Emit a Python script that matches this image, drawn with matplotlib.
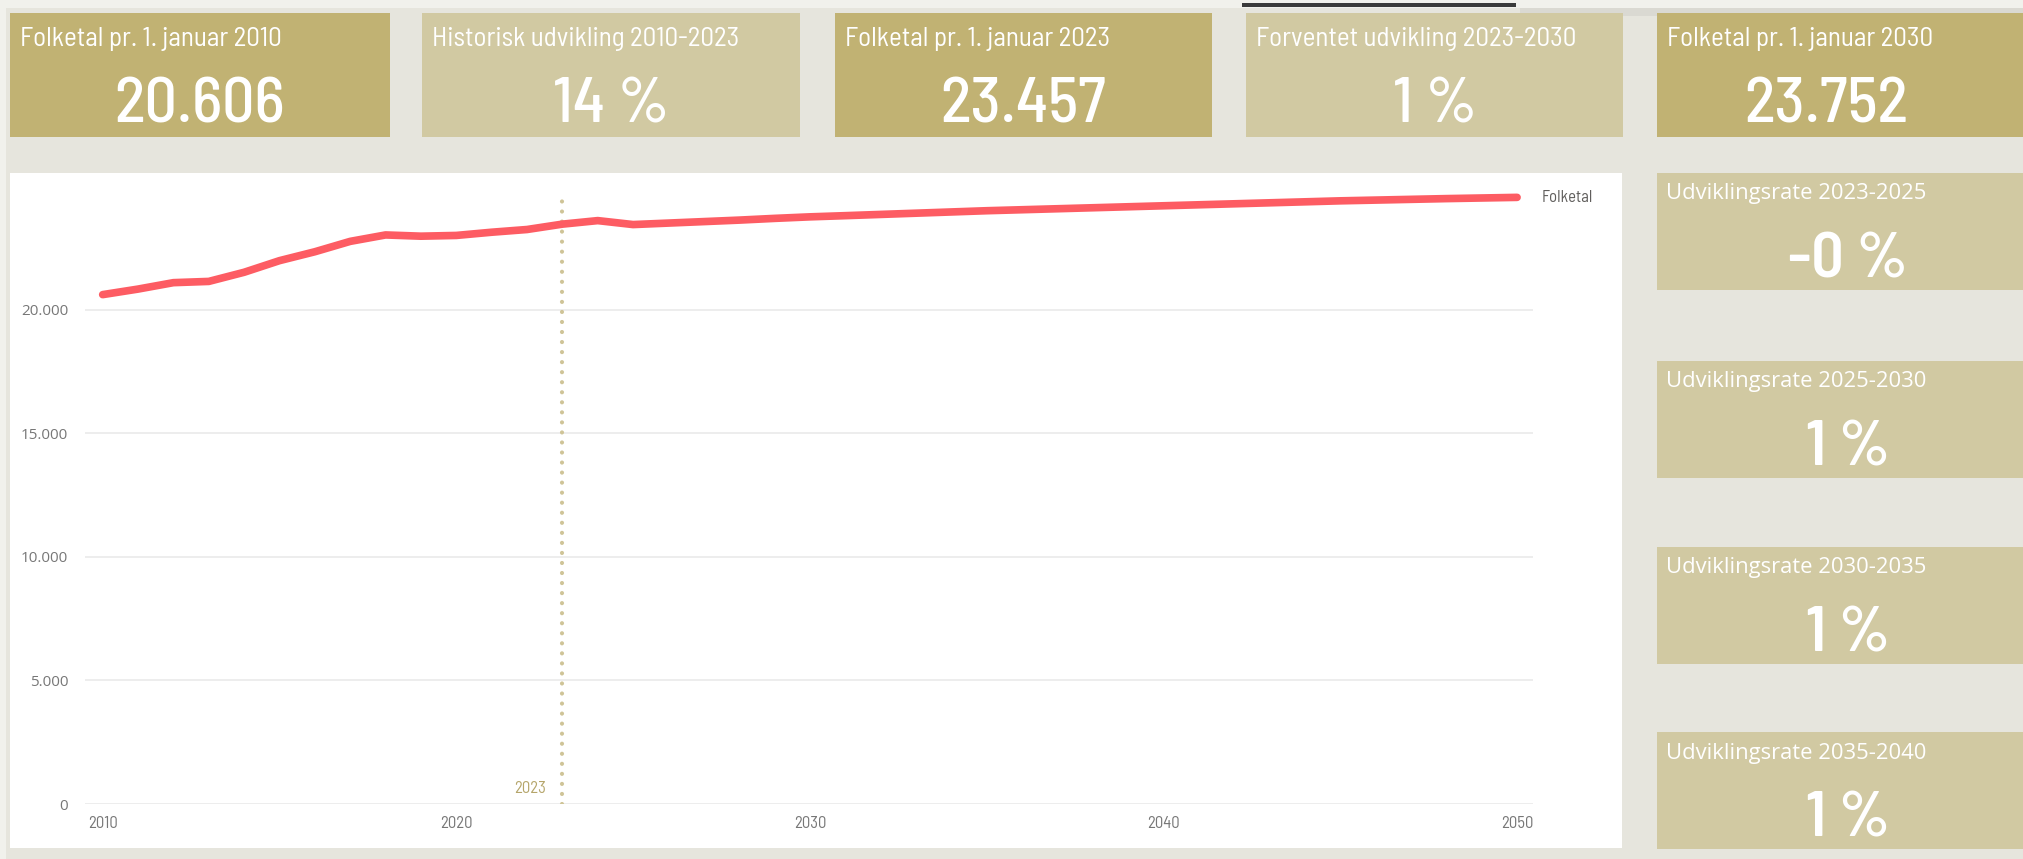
import matplotlib
matplotlib.use("Agg")
import matplotlib.pyplot as plt
from matplotlib.patches import Rectangle
from matplotlib.ticker import FuncFormatter

# population series
years = list(range(2010, 2051))
folketal = [20606, 20830, 21090, 21140, 21510, 21980, 22340, 22760, 23020, 22970,
            23000, 23130, 23240, 23457, 23600, 23440, 23500, 23560, 23620, 23690,
            23752, 23800, 23850, 23900, 23950, 24000, 24040, 24080, 24120, 24160,
            24200, 24240, 24280, 24320, 24360, 24400, 24430, 24460, 24490, 24515,
            24540]

top_titles = ["Folketal pr. 1. januar 2010", "Historisk udvikling 2010-2023",
              "Folketal pr. 1. januar 2023", "Forventet udvikling 2023-2030",
              "Folketal pr. 1. januar 2030"]
top_values = ["20.606", "14 %", "23.457", "1 %", "23.752"]

side_titles = ["Udviklingsrate 2023-2025", "Udviklingsrate 2025-2030",
               "Udviklingsrate 2030-2035", "Udviklingsrate 2035-2040"]
side_values = ["-0 %", "1 %", "1 %", "1 %"]

marker_year = 2023
y_ticks = [0, 5000, 10000, 15000, 20000]
x_ticks = [2010, 2020, 2030, 2040, 2050]

W, H = 2023, 859
BG = "#E6E5DD"
DARK = "#C1B273"
LIGHT = "#D1C9A2"
NARROW = ["Barlow Semi Condensed", "Barlow Condensed", "Roboto Condensed",
          "Archivo Narrow", "DejaVu Sans"]
SEGOE = ["Selawik", "Open Sans", "DejaVu Sans"]

fig = plt.figure(figsize=(W / 100, H / 100), dpi=100)
fig.patch.set_facecolor(BG)

# background canvas in pixel coordinates (y down)
bg = fig.add_axes([0, 0, 1, 1])
bg.set_xlim(0, W)
bg.set_ylim(H, 0)
bg.axis("off")

bg.add_patch(Rectangle((0, 0), W, 8, color="#F1F1EC", lw=0))
bg.add_patch(Rectangle((0, 0), 6, H, color="#F1F1EC", lw=0))
bg.add_patch(Rectangle((1242, 3), 274, 4, color="#3A3A3A", lw=0))
bg.add_patch(Rectangle((1520, 8), 503, 8, color="#DAD9D2", lw=0))

# top cards
top_x = [10, 422, 835, 1246, 1657]
top_w = [380, 378, 377, 377, 380]
top_col = [DARK, LIGHT, DARK, LIGHT, DARK]
top_vx = [200, 611, 1023, 1435, 1826]
for i in range(5):
    bg.add_patch(Rectangle((top_x[i], 13), top_w[i], 124, color=top_col[i], lw=0))
    bg.text(top_x[i] + 10, 39, top_titles[i], color="white", fontsize=19.5,
            family=NARROW, va="center", ha="left")
    bg.text(top_vx[i], 106, top_values[i], color="white", fontsize=46,
            family=NARROW, weight=500, va="center", ha="center")

# side cards
side_y = [173, 361, 547, 732]
for i in range(4):
    bg.add_patch(Rectangle((1657, side_y[i]), 366, 117, color=LIGHT, lw=0))
    bg.text(1666, side_y[i] + 21, side_titles[i], color="white", fontsize=15.8,
            family=SEGOE, va="center", ha="left")
    bg.text(1848, side_y[i] + 88, side_values[i], color="white", fontsize=46,
            family=NARROW, weight=600, va="center", ha="center")

# white chart panel
bg.add_patch(Rectangle((10, 173), 1612, 675, color="white", lw=0))

ax = fig.add_axes([85 / W, 1 - 804 / H, (1533 - 85) / W, (804 - 186) / H])
ax.set_facecolor("none")
ax.plot(years, folketal, color="#FD5C63", lw=5.5, solid_capstyle="round",
        solid_joinstyle="round", zorder=3)
ax.axvline(marker_year, ymin=0, ymax=0.99, color="#CFC497", lw=3,
           linestyle=(0, (0.01, 2.4)), dash_capstyle="round", zorder=2)
ax.text(marker_year - 0.45, 320, str(marker_year), color="#B5A56A", fontsize=12,
        family=NARROW, ha="right", va="bottom")
ax.text(years[-1] + 0.7, folketal[-1], "Folketal", color="#605E5C", fontsize=12,
        family=NARROW, ha="left", va="center", clip_on=False)

ax.set_xlim(2009.5, 2050.45)
ax.set_ylim(0, 25000)
ax.set_yticks(y_ticks)
ax.set_xticks(x_ticks)
ax.yaxis.set_major_formatter(FuncFormatter(lambda v, p: f"{int(v):,}".replace(",", ".")))
ax.grid(axis="y", color="#EAEAEA", lw=1.2)
ax.set_axisbelow(True)
for s in ax.spines.values():
    s.set_visible(False)
ax.tick_params(length=0, colors="#777777")
ax.tick_params(axis="y", pad=12)
ax.tick_params(axis="x", pad=9)
for lab in ax.get_yticklabels():
    lab.set_fontfamily(SEGOE)
    lab.set_fontsize(11)
for lab in ax.get_xticklabels():
    lab.set_fontfamily(NARROW)
    lab.set_fontsize(12)

fig.savefig("out.png", dpi=100, facecolor=BG)
